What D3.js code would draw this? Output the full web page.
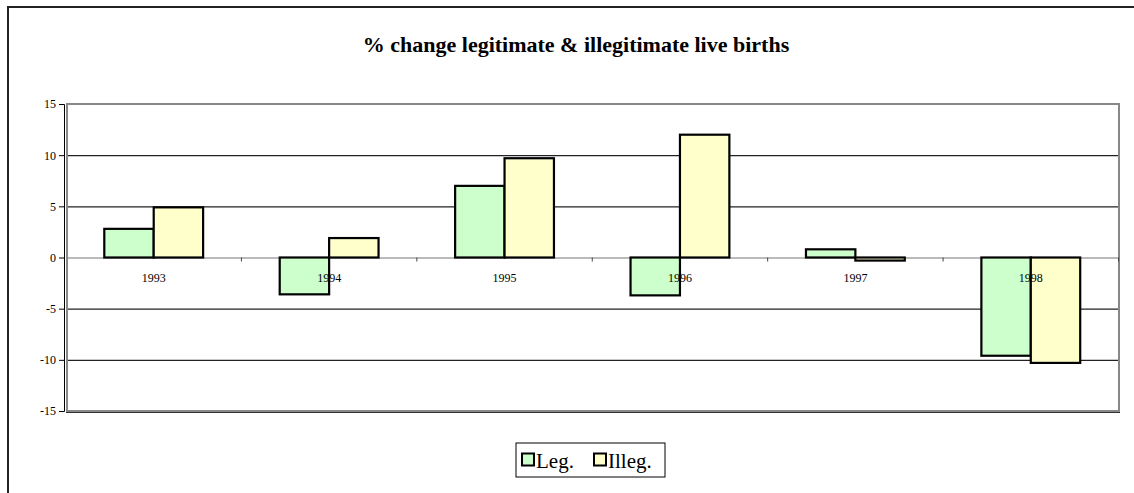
<!DOCTYPE html>
<html>
<head>
<meta charset="utf-8">
<script src="https://cdn.jsdelivr.net/npm/d3@7"></script>
<style>
  body { margin: 0; background: #fff; }
  text { font-family: "Liberation Serif", "Times New Roman", serif; }
</style>
</head>
<body>
<div id="chart"></div>
<script>
// donnees
const years = ["1993", "1994", "1995", "1996", "1997", "1998"];
const series = ["Leg.", "Illeg."];
const legValues = [2.8, -3.6, 7.0, -3.7, 0.8, -9.6];
const illegValues = [4.9, 1.9, 9.7, 12.0, -0.3, -10.3];
const yTicks = [-15, -10, -5, 0, 5, 10, 15];
const colors = ["#ccffcc", "#ffffcc"];

const width = 1134, height = 493;
const margin = { top: 104, right: 15, bottom: 82, left: 66 };
const serif = "'Liberation Serif', 'Times New Roman', serif";

const svg = d3.select("#chart")
  .append("svg")
  .attr("width", width)
  .attr("height", height)
  .attr("font-family", serif);

// cadre exterieur
svg.append("rect")
  .attr("x", 8).attr("y", 7)
  .attr("width", 1140).attr("height", 600)
  .attr("fill", "none")
  .attr("stroke", "#222")
  .attr("stroke-width", 2);

svg.append("text")
  .attr("x", 576).attr("y", 52)
  .attr("text-anchor", "middle")
  .style("font-size", "22px")
  .style("font-weight", "bold")
  .text("% change legitimate & illegitimate live births");

const x = d3.scaleBand()
  .domain(years)
  .range([margin.left, width - margin.right - 0.5]);

const xInner = d3.scaleBand()
  .domain(series)
  .range([0, x.bandwidth()])
  .paddingOuter(0.775);

const y = d3.scaleLinear()
  .domain([-15, 15])
  .range([height - margin.bottom, margin.top]);

// lignes de grille
svg.append("g")
  .selectAll("line")
  .data(yTicks.filter(d => d !== 15 && d !== -15))
  .join("line")
  .attr("x1", margin.left)
  .attr("x2", width - margin.right)
  .attr("y1", d => y(d) + 0.5)
  .attr("y2", d => y(d) + 0.5)
  .attr("stroke", d => d === 0 ? "#777" : "#222")
  .attr("stroke-width", 1.2);

// cadre de la zone de trace
svg.append("rect")
  .attr("x", margin.left + 1)
  .attr("y", margin.top)
  .attr("width", width - margin.right - margin.left - 1)
  .attr("height", y(-15) - margin.top)
  .attr("fill", "none")
  .attr("stroke", "#888")
  .attr("stroke-width", 2);
svg.append("line")
  .attr("x1", margin.left).attr("x2", width - margin.right + 1)
  .attr("y1", y(-15) + 1.5).attr("y2", y(-15) + 1.5)
  .attr("stroke", "#333");

// axe y
const yAxis = svg.append("g")
  .attr("transform", "translate(" + (margin.left - 2) + ",0)")
  .call(d3.axisLeft(y)
    .tickValues(yTicks)
    .tickFormat(d => String(d))
    .tickSize(5)
    .tickPadding(3))
  .attr("font-family", serif)
  .attr("font-size", 12);
yAxis.select(".domain").attr("stroke", "#000");
yAxis.selectAll("text").attr("fill", "#000");

// petites graduations de categories sur l'axe zero
svg.append("g")
  .selectAll("line")
  .data(years)
  .join("line")
  .attr("x1", d => x(d) + x.bandwidth())
  .attr("x2", d => x(d) + x.bandwidth())
  .attr("y1", y(0))
  .attr("y2", y(0) + 4)
  .attr("stroke", "#444");

// barres
const groups = svg.append("g")
  .selectAll("g")
  .data(years)
  .join("g")
  .attr("transform", d => "translate(" + x(d) + ",0)");

groups.selectAll("rect")
  .data((d, i) => [
    { key: series[0], value: legValues[i] },
    { key: series[1], value: illegValues[i] }
  ])
  .join("rect")
  .attr("x", d => xInner(d.key))
  .attr("width", xInner.bandwidth())
  .attr("y", d => y(Math.max(0, d.value)))
  .attr("height", d => Math.abs(y(d.value) - y(0)))
  .attr("fill", (d, i) => colors[i])
  .attr("stroke", "#000")
  .attr("stroke-width", 2.2);

// etiquettes des annees
svg.append("g")
  .selectAll("text")
  .data(years)
  .join("text")
  .attr("x", d => x(d) + x.bandwidth() / 2)
  .attr("y", y(0) + 24)
  .attr("text-anchor", "middle")
  .style("font-size", "12px")
  .text(d => d);

// legende
const legend = svg.append("g").attr("transform", "translate(516,443)");
legend.append("rect")
  .attr("width", 149).attr("height", 34)
  .attr("fill", "#fff")
  .attr("stroke", "#000");
const items = legend.selectAll("g")
  .data(series)
  .join("g")
  .attr("transform", (d, i) => "translate(" + (6 + i * 72) + ",0)");
items.append("rect")
  .attr("x", 0).attr("y", 10.5)
  .attr("width", 12).attr("height", 12)
  .attr("fill", (d, i) => colors[i])
  .attr("stroke", "#000")
  .attr("stroke-width", 2);
items.append("text")
  .attr("x", 14).attr("y", 25)
  .style("font-size", "21px")
  .text(d => d);
</script>
</body>
</html>
